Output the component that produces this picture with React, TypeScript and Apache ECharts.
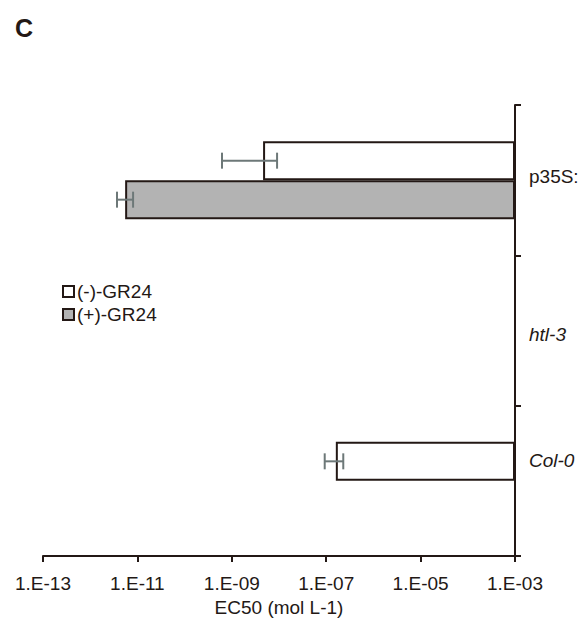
import React, { useEffect, useRef } from "react";
import * as echarts from "echarts";

const categories = ["Col-0", "htl-3", "p35S:"];
const seriesNames = ["(-)-GR24", "(+)-GR24"];
// EC50 values (mol L-1); null = no bar
const minusGR24 = [1.6e-7, null, 4.6e-9];
const plusGR24 = [null, null, 5.5e-12];
// error bar extents (low, high)
const minusLow = [9.3e-8, null, 6.2e-10];
const minusHigh = [2.3e-7, null, 9.1e-9];
const plusLow = [null, null, 3.7e-12];
const plusHigh = [null, null, 8.1e-12];
const tickExponents = [-13, -11, -9, -7, -5, -3];

const DARK = "#231815";
const FONT = "Liberation Sans, Arial, sans-serif";

const toT = (v: number | null) => (v == null ? "-" : Math.log10(v) + 3);

export default function App() {
  const ref = useRef<HTMLDivElement>(null);
  useEffect(() => {
    if (!ref.current) return;
    const chart = echarts.init(ref.current, undefined, { renderer: "svg" });
    const barW = 39;
    const errData: any[] = [];
    [
      [minusLow, minusHigh, 0],
      [plusLow, plusHigh, 1],
    ].forEach(([lo, hi, s]: any) => {
      categories.forEach((_, i) => {
        if (lo[i] != null) errData.push([toT(lo[i]), toT(hi[i]), i, s]);
      });
    });
    chart.setOption({
      animation: false,
      textStyle: { fontFamily: FONT },
      title: {
        text: "C",
        left: 10,
        top: 10,
        textStyle: { fontSize: 25, fontWeight: "bold", color: DARK, fontFamily: FONT },
      },
      legend: {
        orient: "vertical",
        left: 62,
        top: 282,
        itemWidth: 11,
        itemHeight: 11,
        itemGap: 4,
        padding: 0,
        icon: "rect",
        data: seriesNames,
        textStyle: { fontSize: 19, color: DARK, fontFamily: FONT, padding: [0, 0, 0, -2] },
      },
      grid: { left: 43, right: 72, top: 105, bottom: 75, containLabel: false },
      xAxis: {
        type: "value",
        min: -10,
        max: 0,
        interval: 2,
        name: "EC50 (mol L-1)",
        nameLocation: "middle",
        nameGap: 36,
        nameTextStyle: { fontSize: 19, color: DARK, fontFamily: FONT },
        axisLine: { show: true, lineStyle: { color: DARK, width: 2 } },
        axisTick: { show: true, length: 6, lineStyle: { color: DARK, width: 2 } },
        splitLine: { show: false },
        axisLabel: {
          fontSize: 19,
          color: DARK,
          margin: 18,
          fontFamily: FONT,
          formatter: (v: number) => {
            const e = Math.round(v - 3);
            if (!tickExponents.includes(e)) return "";
            return "1.E-" + String(-e).padStart(2, "0");
          },
        },
      },
      yAxis: {
        type: "category",
        data: categories,
        position: "right",
        axisLine: { show: true, lineStyle: { color: DARK, width: 2 } },
        axisTick: { show: true, inside: false, length: 6, lineStyle: { color: DARK, width: 2 } },
        axisLabel: {
          margin: 14,
          color: DARK,
          fontSize: 19,
          fontFamily: FONT,
          formatter: (v: string) =>
            v === "p35S:" ? `{n|${v}}` : v === "Col-0" ? `{c|${v}}` : `{i|${v}}`,
          rich: {
            n: { fontSize: 19, color: DARK, fontFamily: FONT, padding: [0, 0, 7, 0] },
            i: { fontSize: 19, color: DARK, fontFamily: FONT, fontStyle: "italic", padding: [8, 0, 0, 0] },
            c: { fontSize: 19, color: DARK, fontFamily: FONT, fontStyle: "italic", padding: [0, 0, 40, 0] },
          },
        },
      },
      series: [
        {
          name: seriesNames[0],
          type: "bar",
          barWidth: barW,
          barGap: "0%",
          data: minusGR24.map(toT),
          itemStyle: { color: "#ffffff", borderColor: DARK, borderWidth: 2 },
        },
        {
          name: seriesNames[1],
          type: "bar",
          barWidth: barW,
          barGap: "0%",
          data: plusGR24.map(toT),
          itemStyle: { color: "#b3b3b3", borderColor: DARK, borderWidth: 2 },
        },
        {
          type: "custom",
          encode: { x: [0, 1], y: 2 },
          data: errData,
          z: 10,
          renderItem: (params: any, api: any) => {
            const lo = api.coord([api.value(0), api.value(2)]);
            const hi = api.coord([api.value(1), api.value(2)]);
            const s = api.value(3);
            const y = lo[1] + (s === 0 ? -barW / 2 : barW / 2);
            const h = 8;
            const st = { stroke: "#6d7878", lineWidth: 2 };
            return {
              type: "group",
              children: [
                { type: "line", shape: { x1: lo[0], y1: y, x2: hi[0], y2: y }, style: st },
                { type: "line", shape: { x1: lo[0], y1: y - h, x2: lo[0], y2: y + h }, style: st },
                { type: "line", shape: { x1: hi[0], y1: y - h, x2: hi[0], y2: y + h }, style: st },
              ],
            };
          },
        },
      ],
    });
    return () => chart.dispose();
  }, []);
  return (
    <div
      ref={ref}
      style={{ position: "fixed", left: 0, top: 0, width: 587, height: 631, background: "#fff" }}
    />
  );
}
